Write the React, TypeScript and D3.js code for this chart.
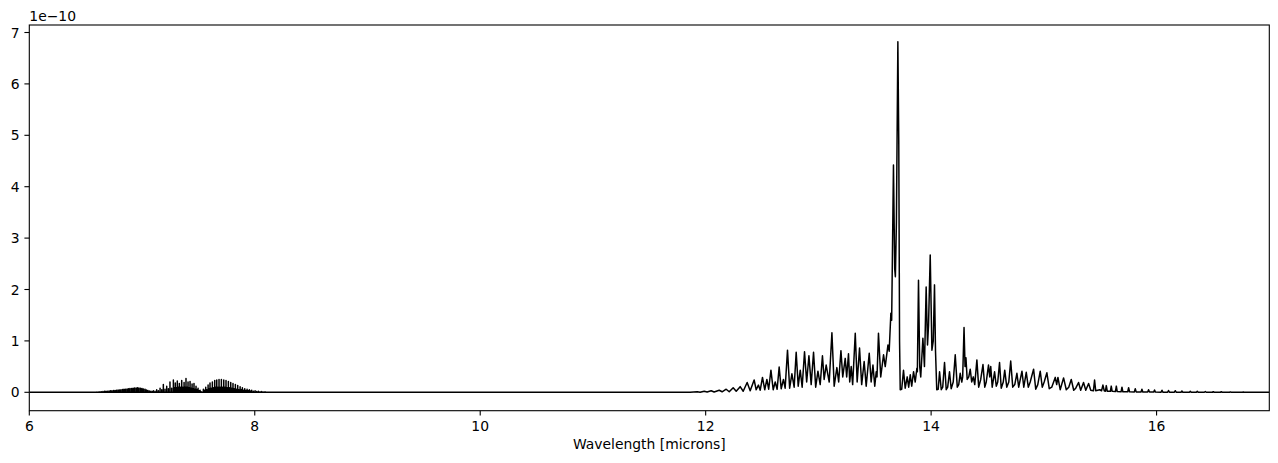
import React from 'react';
import * as d3 from 'd3';

// Weak broad band near 7 microns: [wavelength, flux (1e-10)]
const humpLines: [number, number][] = [
  [6.600, 0.005], [6.613, 0.008], [6.627, 0.01], [6.640, 0.012], [6.653, 0.015], [6.667, 0.018],
  [6.680, 0.02], [6.693, 0.022], [6.707, 0.025], [6.720, 0.028], [6.733, 0.03], [6.747, 0.033],
  [6.760, 0.036], [6.773, 0.04], [6.787, 0.043], [6.800, 0.046], [6.813, 0.05], [6.827, 0.053],
  [6.840, 0.057], [6.853, 0.06], [6.867, 0.064], [6.880, 0.068], [6.893, 0.072], [6.907, 0.076],
  [6.920, 0.08], [6.933, 0.083], [6.947, 0.086], [6.960, 0.088], [6.973, 0.085], [6.987, 0.08],
  [7.000, 0.074], [7.013, 0.066], [7.027, 0.057], [7.040, 0.047], [7.053, 0.037], [7.067, 0.027],
  [7.080, 0.018], [7.093, 0.012],
];

// Line comb 7.1 - 7.52 microns
const combLines1: [number, number][] = [
  [7.100, 0.03], [7.115, 0.02], [7.130, 0.05], [7.145, 0.03], [7.160, 0.08], [7.175, 0.05],
  [7.189, 0.15], [7.204, 0.06], [7.219, 0.12], [7.234, 0.07], [7.248, 0.20], [7.263, 0.08],
  [7.278, 0.24], [7.287, 0.09], [7.295, 0.18], [7.304, 0.09], [7.313, 0.22], [7.322, 0.1],
  [7.331, 0.17], [7.341, 0.1], [7.352, 0.23], [7.362, 0.1], [7.373, 0.19], [7.381, 0.1],
  [7.390, 0.27], [7.399, 0.1], [7.408, 0.20], [7.417, 0.09], [7.426, 0.21], [7.435, 0.08],
  [7.444, 0.16], [7.452, 0.07], [7.461, 0.17], [7.470, 0.06], [7.479, 0.12], [7.488, 0.05],
  [7.497, 0.08], [7.506, 0.03], [7.515, 0.04], [7.525, 0.01],
];

// Line comb 7.54 - 8.1 microns
const combLines2: [number, number][] = [
  [7.544, 0.06], [7.554, 0.04], [7.565, 0.10], [7.575, 0.05], [7.586, 0.14], [7.594, 0.07],
  [7.603, 0.18], [7.613, 0.08], [7.624, 0.20], [7.634, 0.09], [7.645, 0.23], [7.654, 0.1],
  [7.663, 0.24], [7.673, 0.1], [7.683, 0.25], [7.693, 0.1], [7.704, 0.25], [7.714, 0.1],
  [7.725, 0.24], [7.735, 0.1], [7.745, 0.23], [7.755, 0.09], [7.766, 0.21], [7.776, 0.09],
  [7.787, 0.19], [7.797, 0.08], [7.807, 0.17], [7.817, 0.07], [7.828, 0.15], [7.838, 0.06],
  [7.849, 0.13], [7.859, 0.05], [7.870, 0.11], [7.880, 0.05], [7.890, 0.09], [7.900, 0.04],
  [7.911, 0.07], [7.921, 0.035], [7.932, 0.06], [7.942, 0.03], [7.952, 0.05], [7.962, 0.025],
  [7.973, 0.04], [7.988, 0.02], [8.003, 0.03], [8.017, 0.015], [8.032, 0.02], [8.047, 0.01],
  [8.062, 0.015], [8.076, 0.008], [8.091, 0.01],
];

// Strong band 11.9 - 15.42 microns, vertex list (peaks and valleys)
const forest: [number, number][] = [
  [11.862, 0], [11.925, 0.01], [11.951, 0], [11.987, 0.02], [12.013, 0.005], [12.049, 0.03],
  [12.075, 0.005], [12.120, 0.04], [12.146, 0.01], [12.182, 0.06], [12.209, 0.01], [12.244, 0.09],
  [12.271, 0.02], [12.306, 0.11], [12.333, 0.02], [12.368, 0.19], [12.395, 0.03], [12.430, 0.24],
  [12.448, 0.05], [12.468, 0.14], [12.484, 0.04], [12.504, 0.29], [12.524, 0.05], [12.543, 0.25],
  [12.559, 0.06], [12.579, 0.43], [12.599, 0.05], [12.617, 0.2], [12.634, 0.06], [12.652, 0.49],
  [12.670, 0.07], [12.690, 0.25], [12.705, 0.08], [12.726, 0.82], [12.745, 0.08], [12.765, 0.36],
  [12.785, 0.1], [12.803, 0.78], [12.821, 0.12], [12.839, 0.43], [12.856, 0.1], [12.877, 0.79],
  [12.896, 0.2], [12.916, 0.71], [12.936, 0.15], [12.957, 0.78], [12.976, 0.1], [12.996, 0.41],
  [13.016, 0.15], [13.036, 0.71], [13.051, 0.25], [13.069, 0.53], [13.096, 0.2], [13.120, 1.16],
  [13.140, 0.12], [13.164, 0.48], [13.180, 0.2], [13.200, 0.81], [13.216, 0.3], [13.238, 0.66],
  [13.251, 0.3], [13.267, 0.75], [13.278, 0.2], [13.291, 0.5], [13.304, 0.15], [13.327, 1.15],
  [13.344, 0.2], [13.365, 0.86], [13.384, 0.15], [13.406, 0.6], [13.424, 0.12], [13.451, 0.76],
  [13.468, 0.2], [13.484, 0.53], [13.500, 0.12], [13.513, 0.4], [13.520, 0.3], [13.533, 1.15],
  [13.553, 0.3], [13.578, 0.73], [13.593, 0.5], [13.617, 0.92], [13.628, 0.8], [13.643, 1.54],
  [13.650, 1.4], [13.666, 4.42], [13.677, 2.4], [13.683, 2.25], [13.692, 3.3], [13.705, 6.82],
  [13.713, 4.9], [13.720, 1.0], [13.726, 0.05], [13.739, 0.06], [13.755, 0.43], [13.770, 0.08],
  [13.788, 0.3], [13.801, 0.1], [13.815, 0.34], [13.828, 0.12], [13.844, 0.4], [13.859, 0.2],
  [13.874, 0.47], [13.878, 0.4], [13.888, 2.18], [13.899, 0.5], [13.908, 0.3], [13.927, 1.05],
  [13.941, 0.5], [13.956, 2.05], [13.968, 0.92], [13.977, 1.3], [13.992, 2.67], [14.007, 0.82],
  [14.019, 1.0], [14.030, 2.09], [14.039, 0.8], [14.050, 0.05], [14.063, 0.06], [14.075, 0.40],
  [14.090, 0.05], [14.103, 0.1], [14.119, 0.58], [14.134, 0.05], [14.147, 0.1], [14.163, 0.40],
  [14.178, 0.07], [14.196, 0.2], [14.214, 0.73], [14.232, 0.1], [14.245, 0.15], [14.258, 0.37],
  [14.272, 0.2], [14.280, 0.3], [14.292, 1.26], [14.301, 0.5], [14.309, 0.67], [14.320, 0.25],
  [14.334, 0.3], [14.347, 0.45], [14.360, 0.2], [14.374, 0.3], [14.387, 0.15], [14.406, 0.63],
  [14.422, 0.1], [14.440, 0.25], [14.460, 0.54], [14.476, 0.1], [14.489, 0.2], [14.509, 0.53],
  [14.520, 0.3], [14.529, 0.5], [14.542, 0.1], [14.563, 0.40], [14.578, 0.12], [14.591, 0.2],
  [14.607, 0.58], [14.622, 0.08], [14.640, 0.2], [14.653, 0.43], [14.671, 0.1], [14.689, 0.2],
  [14.706, 0.61], [14.724, 0.1], [14.742, 0.15], [14.761, 0.37], [14.777, 0.1], [14.791, 0.25],
  [14.806, 0.41], [14.822, 0.1], [14.844, 0.39], [14.862, 0.1], [14.879, 0.2], [14.909, 0.45],
  [14.928, 0.06], [14.946, 0.15], [14.968, 0.41], [14.986, 0.1], [15.003, 0.2], [15.027, 0.38],
  [15.048, 0.07], [15.070, 0.1], [15.101, 0.29], [15.114, 0.15], [15.125, 0.29], [15.145, 0.05],
  [15.175, 0.28], [15.199, 0.05], [15.221, 0.1], [15.243, 0.25], [15.265, 0.04], [15.283, 0.08],
  [15.308, 0.19], [15.327, 0.04], [15.352, 0.19], [15.372, 0.04], [15.397, 0.17], [15.416, 0.04],
];

// Decaying tail of narrow lines 15.44 - 16.8 microns
const tail: [number, number][] = [
  [15.440, 0.03], [15.450, 0.24], [15.460, 0.03], [15.496, 0.05], [15.512, 0.03], [15.524, 0.14],
  [15.536, 0.03], [15.546, 0.02], [15.554, 0.13], [15.563, 0.02], [15.590, 0.02], [15.598, 0.12],
  [15.606, 0.02], [15.635, 0.015], [15.643, 0.12], [15.651, 0.015], [15.685, 0.01], [15.693, 0.1],
  [15.701, 0.01], [15.744, 0.01], [15.752, 0.09], [15.760, 0.01], [15.803, 0.008], [15.811, 0.07],
  [15.819, 0.008], [15.862, 0.006], [15.870, 0.06], [15.878, 0.006], [15.921, 0.005], [15.929, 0.05],
  [15.937, 0.005], [15.974, 0.004], [15.982, 0.045], [15.990, 0.004], [16.040, 0.003], [16.048, 0.04],
  [16.056, 0.003], [16.098, 0.003], [16.106, 0.035], [16.114, 0.003], [16.158, 0.002], [16.166, 0.03],
  [16.174, 0.002], [16.217, 0.002], [16.225, 0.025], [16.233, 0.002], [16.291, 0.002], [16.299, 0.02],
  [16.307, 0.002], [16.353, 0.001], [16.361, 0.02], [16.369, 0.001], [16.424, 0.001], [16.432, 0.015],
  [16.440, 0.001], [16.495, 0.001], [16.503, 0.012], [16.511, 0.001], [16.566, 0.001], [16.574, 0.01],
  [16.582, 0.001], [16.646, 0.001], [16.654, 0.008], [16.662, 0.001], [16.761, 0], [16.769, 0.005],
  [16.777, 0], [16.831, 0],
];

const xTicks = [6, 8, 10, 12, 14, 16];
const yTicks = [0, 1, 2, 3, 4, 5, 6, 7];
const xDomain: [number, number] = [6, 17];
const yDomain: [number, number] = [-0.358, 7.146];
const xLabel = 'Wavelength [microns]';
const offsetText = '1e\u221210';

export default function App() {
  const W = 1278;
  const H = 463;
  const left = 29.3, right = 1269.3, top = 25, bottom = 410.7;
  const x = d3.scaleLinear().domain(xDomain).range([left, right]);
  const y = d3.scaleLinear().domain(yDomain).range([bottom, top]);

  const pts: [number, number][] = [[xDomain[0], 0]];
  for (const [w, t] of [...humpLines, ...combLines1, ...combLines2]) {
    pts.push([w, 0], [w, t], [w, 0]);
  }
  pts.push(...forest, ...tail);
  pts.push([xDomain[1], 0]);

  const line = d3.line<[number, number]>().x(d => x(d[0])).y(d => y(d[1]));
  const font = '"DejaVu Sans", sans-serif';
  const fs = 13.9;
  const tickLen = 4.9;

  return (
    <svg width={W} height={H} style={{ position: 'absolute', left: 0, top: 0 }} xmlns="http://www.w3.org/2000/svg">
      <rect x={0} y={0} width={W} height={H} fill="#fff" />
      <defs>
        <clipPath id="plotclip">
          <rect x={left} y={top} width={right - left} height={bottom - top} />
        </clipPath>
      </defs>
      <g clipPath="url(#plotclip)">
        <path d={line(pts) || ''} fill="none" stroke="#000" strokeWidth={1.5} strokeLinejoin="round" />
      </g>
      <rect x={left} y={top} width={right - left} height={bottom - top} fill="none" stroke="#000" strokeWidth={1.1} />
      {xTicks.map(t => (
        <g key={'x' + t}>
          <line x1={x(t)} x2={x(t)} y1={bottom} y2={bottom + tickLen} stroke="#000" strokeWidth={1.1} />
          <text x={x(t)} y={431} textAnchor="middle" fontFamily={font} fontSize={fs} fill="#000">{t}</text>
        </g>
      ))}
      {yTicks.map(t => (
        <g key={'y' + t}>
          <line x1={left - tickLen} x2={left} y1={y(t)} y2={y(t)} stroke="#000" strokeWidth={1.1} />
          <text x={left - tickLen - 4.9} y={y(t) + 5} textAnchor="end" fontFamily={font} fontSize={fs} fill="#000">{t}</text>
        </g>
      ))}
      <text x={left} y={21} fontFamily={font} fontSize={fs} fill="#000">{offsetText}</text>
      <text x={(left + right) / 2} y={449} textAnchor="middle" fontFamily={font} fontSize={fs} fill="#000">{xLabel}</text>
    </svg>
  );
}
